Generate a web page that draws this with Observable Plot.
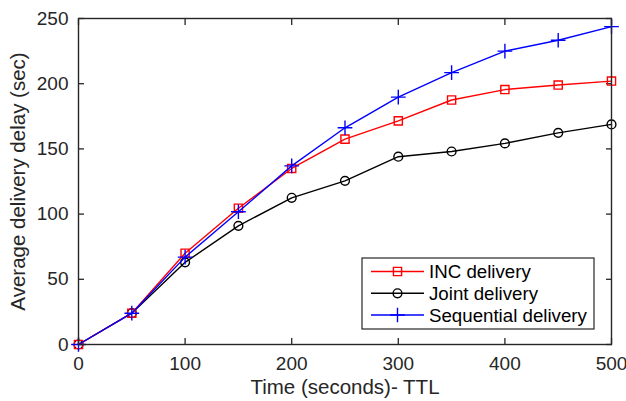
<!DOCTYPE html>
<html>
<head>
<meta charset="utf-8">
<script src="https://cdn.jsdelivr.net/npm/d3@7"></script>
<script src="https://cdn.jsdelivr.net/npm/@observablehq/plot@0.6"></script>
<style>
  html, body { margin: 0; padding: 0; background: white; }
</style>
</head>
<body>
<div id="chart"></div>
<script>
// ---- data ----
const ttl = [0, 50, 100, 150, 200, 250, 300, 350, 400, 450, 500];
const incDelivery = [0, 24, 70, 104.5, 135, 157.5, 171.5, 187.5, 195.5, 199, 202];
const jointDelivery = [0, 24, 63, 91, 112.5, 125.5, 144, 148, 154.2, 162.3, 168.8];
const sequentialDelivery = [0, 24, 67, 101.8, 137, 166.2, 189.7, 208.5, 225, 233.3, 243.8];
const seriesNames = ["INC delivery", "Joint delivery", "Sequential delivery"];
const xTicks = [0, 100, 200, 300, 400, 500];
const yTicks = [0, 50, 100, 150, 200, 250];
const xLabel = "Time (seconds)- TTL";
const yLabel = "Average delivery delay (sec)";

// ---- styles ----
const styles = {
  "INC delivery": {color: "#ff0000", symbol: "square", r: 4.6},
  "Joint delivery": {color: "#000000", symbol: "circle", r: 4.4},
  "Sequential delivery": {color: "#0000ff", symbol: "plus", r: 4.8}
};
const seriesValues = [incDelivery, jointDelivery, sequentialDelivery];
const drawOrder = [1, 0, 2];
const ink = "#262626";
const font = "'Liberation Sans', Arial, Helvetica, sans-serif";

const marks = [];
for (const si of drawOrder) {
  const name = seriesNames[si];
  const st = styles[name];
  const rows = ttl.map((t, i) => ({ttl: t, delay: seriesValues[si][i], series: name}));
  marks.push(Plot.line(rows, {x: "ttl", y: "delay", stroke: st.color, strokeWidth: 1.4}));
  marks.push(Plot.dot(rows, {x: "ttl", y: "delay", stroke: st.color, fill: "none",
    symbol: st.symbol, r: st.r, strokeWidth: 1.4}));
}

const chart = Plot.plot({
  width: 626,
  height: 401,
  marginLeft: 78,
  marginRight: 15,
  marginTop: 18,
  marginBottom: 57,
  style: {fontFamily: font, fontSize: "19px", color: ink, background: "white", overflow: "visible"},
  x: {domain: [0, 500]},
  y: {domain: [0, 250]},
  marks: [
    // inward ticks on all four sides
    Plot.axisX({anchor: "bottom", ticks: xTicks, tickSize: -6, tickFormat: () => "", label: null, strokeWidth: 1.3}),
    Plot.axisX({anchor: "top", ticks: xTicks, tickSize: -6, tickFormat: () => "", label: null, strokeWidth: 1.3}),
    Plot.axisY({anchor: "left", ticks: yTicks, tickSize: -6, tickFormat: () => "", label: null, strokeWidth: 1.3}),
    Plot.axisY({anchor: "right", ticks: yTicks, tickSize: -6, tickFormat: () => "", label: null, strokeWidth: 1.3}),
    // tick labels
    Plot.axisX({anchor: "bottom", ticks: xTicks, tickSize: 0, tickPadding: 12, label: null, fontSize: 19}),
    Plot.axisY({anchor: "left", ticks: yTicks, tickSize: 0, tickPadding: 10, label: null, fontSize: 19}),
    // axis titles
    Plot.text([xLabel], {frameAnchor: "bottom", dy: 43, text: d => d, fontSize: 20.5, fill: ink,
      textAnchor: "middle", lineAnchor: "middle"}),
    Plot.text([yLabel], {frameAnchor: "left", dx: -60, rotate: -90, text: d => d, fontSize: 20.5, fill: ink,
      textAnchor: "middle", lineAnchor: "middle"}),
    ...marks,
    Plot.frame({stroke: ink, strokeWidth: 1.4})
  ]
});

document.getElementById("chart").appendChild(chart);

// ---- legend (MATLAB-style box inside the axes, lower right) ----
const svg = d3.select(chart);
const lg = {x: 362, y: 258, w: 232, h: 71, rowY: [271.5, 293.3, 315], lineX0: 371, lineX1: 424, textX: 429};
const g = svg.append("g").attr("text-anchor", "start");
g.append("rect").attr("x", lg.x).attr("y", lg.y).attr("width", lg.w).attr("height", lg.h)
  .attr("fill", "white").attr("stroke", ink).attr("stroke-width", 1.2);
seriesNames.forEach((name, i) => {
  const st = styles[name];
  const y = lg.rowY[i];
  g.append("line").attr("x1", lg.lineX0).attr("x2", lg.lineX1).attr("y1", y).attr("y2", y)
    .attr("stroke", st.color).attr("stroke-width", 1.4);
  const sym = {square: d3.symbolSquare, circle: d3.symbolCircle, plus: d3.symbolPlus}[st.symbol];
  g.append("path").attr("d", d3.symbol(sym, Math.PI * st.r * st.r)())
    .attr("transform", `translate(${(lg.lineX0 + lg.lineX1) / 2},${y})`)
    .attr("fill", "none").attr("stroke", st.color).attr("stroke-width", 1.4);
  g.append("text").attr("x", lg.textX).attr("y", y).attr("dy", "0.35em")
    .attr("text-anchor", "start")
    .attr("font-size", 18.7).attr("fill", "#000").attr("font-family", font).text(name);
});
</script>
</body>
</html>
